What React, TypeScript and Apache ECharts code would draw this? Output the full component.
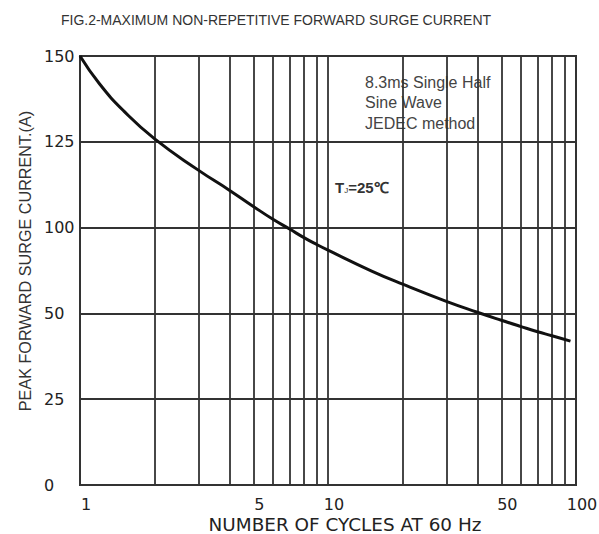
import React, { useEffect, useRef } from "react";
import * as echarts from "echarts";

// Data
const cycles = [1, 1.2, 1.5, 2, 3, 4, 5, 6, 7, 8, 9, 10, 15, 20, 30, 40, 50, 60, 70, 80, 95];
const current = [150, 140.2, 130.8, 121.0, 110.1, 103.1, 97.4, 92.9, 89.5, 86.5, 84.1, 82.1, 74.8, 70.2, 64.2, 60.4, 57.6, 55.4, 53.6, 52.2, 50.3];

// Vertical grid lines (log decades)
const gridCycles = [2, 3, 4, 5, 6, 7, 8, 9, 10, 20, 30, 40, 50, 60, 70, 80, 90];
// X tick labels
const xTickValues = [1, 5, 10, 50, 100];
// Y tick labels as printed on the chart (bottom to top)
const yTickLabels = ["0", "25", "50", "100", "125", "150"];

const titleText = "FIG.2-MAXIMUM NON-REPETITIVE FORWARD SURGE CURRENT";
const yName = "PEAK FORWARD SURGE CURRENT.(A)";
const xName = "NUMBER OF CYCLES AT 60 Hz";
const noteLines = ["8.3ms Single Half", "Sine Wave", "JEDEC method"];

export default function App() {
  const ref = useRef<HTMLDivElement>(null);

  useEffect(() => {
    if (!ref.current) return;
    const chart = echarts.init(ref.current, null, { renderer: "svg" });
    const gridColor = "#333";
    const tickFont = "DejaVu Sans";

    chart.setOption({
      animation: false,
      backgroundColor: "#fff",
      grid: {
        left: 80,
        right: 23,
        top: 56,
        bottom: 49,
        show: true,
        borderColor: gridColor,
        borderWidth: 2,
        outerBoundsMode: "none",
      },
      xAxis: [
        {
          type: "log",
          logBase: 10,
          min: 1,
          max: 100,
          axisLine: { show: true, lineStyle: { color: gridColor, width: 2 } },
          axisTick: { show: false },
          axisLabel: { show: false },
          splitLine: { show: false },
        },
        {
          type: "value",
          min: 0,
          max: 2,
          position: "bottom",
          axisLine: { show: false },
          axisTick: { show: false },
          splitLine: { show: false },
          axisLabel: {
            customValues: xTickValues.map((v) => Math.log10(v)),
            formatter: (v: number) => String(Math.round(Math.pow(10, v))),
            fontFamily: tickFont,
            fontSize: 16,
            color: "#222",
            margin: 11,
            padding: [0, 0, 0, 12],
            showMinLabel: true,
            showMaxLabel: true,
          },
        },
      ],
      yAxis: {
        type: "value",
        min: 0,
        max: 150,
        interval: 30,
        axisLine: { show: true, lineStyle: { color: gridColor, width: 2 } },
        axisTick: { show: false },
        splitLine: { show: true, lineStyle: { color: gridColor, width: 1.8 } },
        axisLabel: {
          formatter: (v: number) => yTickLabels[Math.round(v / 30)] ?? "",
          align: "left",
          margin: 36,
          fontFamily: tickFont,
          fontSize: 16,
          color: "#222",
        },
      },
      series: [
        {
          type: "line",
          xAxisIndex: 0,
          data: cycles.map((c, i) => [c, current[i]]),
          smooth: 0.5,
          symbol: "none",
          lineStyle: { color: "#111", width: 3 },
          z: 5,
          markLine: {
            silent: true,
            symbol: ["none", "none"],
            label: { show: false },
            lineStyle: { color: gridColor, width: 1.8, type: "solid" },
            data: gridCycles.map((c) => ({ xAxis: c })),
            z: 1,
          },
        },
      ],
      graphic: [
        {
          type: "text",
          x: 276,
          y: 20,
          style: {
            text: titleText,
            fontFamily: "Liberation Sans",
            fontSize: 14,
            fill: "#333",
            textAlign: "center",
            textVerticalAlign: "middle",
          },
        },
        {
          type: "text",
          x: 25,
          y: 261,
          rotation: Math.PI / 2,
          style: {
            text: yName,
            fontFamily: "Liberation Sans",
            fontSize: 16.2,
            fill: "#333",
            textAlign: "center",
            textVerticalAlign: "middle",
          },
        },
        {
          type: "text",
          x: 345,
          y: 524,
          style: {
            text: xName,
            fontFamily: tickFont,
            fontSize: 18.4,
            lineHeight: 17,
            fill: "#222",
            textAlign: "center",
            textVerticalAlign: "middle",
          },
        },
        ...noteLines.map((t, i) => ({
          type: "text",
          x: 365,
          y: 82 + i * 20.5,
          style: {
            text: t,
            fontFamily: "Liberation Sans",
            fontSize: 16,
            fill: "#444",
            textAlign: "left",
            textVerticalAlign: "middle",
          },
        })),
        {
          type: "text",
          x: 335,
          y: 187,
          style: {
            text: "{t|T}{s|J}{t|=25℃}",
            textVerticalAlign: "middle",
            rich: {
              t: { fontFamily: "Liberation Sans", fontSize: 15, fill: "#333", fontWeight: "bold" },
              s: { fontFamily: "Liberation Sans", fontSize: 8, fill: "#333", padding: [6, 0, 0, 0] },
            },
          },
        },
      ],
    });

    return () => chart.dispose();
  }, []);

  return (
    <div
      ref={ref}
      style={{ position: "fixed", left: 0, top: 0, width: 599, height: 534 }}
    />
  );
}
